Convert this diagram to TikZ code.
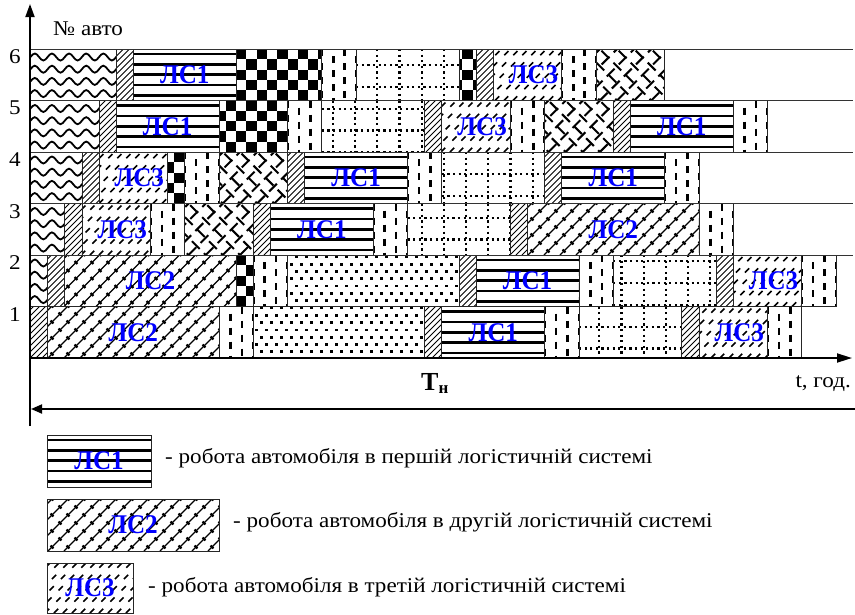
\documentclass[tikz,border=0pt]{standalone}
\usepackage{graphicx}
\usepackage{fontspec}
\setmainfont{Liberation Serif}
\usetikzlibrary{arrows.meta}

\def\U{17.14}
\def\XO{30.5}
\def\RH{51.5}
\def\YB{358}

\newcommand\wtxt[1]{\scalebox{1.1}[1]{#1}}
\newcommand\ltxt[1]{\scalebox{0.93}[1]{#1}}

\tikzset{
  frame/.style={line width=0.8pt,draw=black!85},
  rowline/.style={line width=0.9pt,draw=black!80},
  axisline/.style={line width=1.8pt},
  dotline/.style={line width=2.2pt,dash pattern=on 2.2pt off 3.4pt},
  lab/.style={font=\bfseries\fontsize{27}{27}\selectfont,text=blue,inner sep=0pt},
  txt/.style={font=\fontsize{21}{24}\selectfont,inner sep=0pt},
}

% ---- patterns (use \xa,\ya,\xb,\yb ; y grows downward) ----
\newcommand\patH{%
  \foreach \i in {0,...,4}{\draw[line width=2.6pt] (\xa,{\ya+5.15+10.3*\i}) -- (\xb,{\ya+5.15+10.3*\i});}}
\newcommand\patD{%
  \pgfmathtruncatemacro\ka{floor((\xa-60)/6)}%
  \pgfmathtruncatemacro\kb{ceil(\xb/6)}%
  \foreach \k in {\ka,...,\kb}{\draw[line width=0.9pt] ({6*\k},\yb) -- ++(60,-60);}}
\newcommand\patT{%
  \pgfmathtruncatemacro\ka{floor((\xa-60)/9)}%
  \pgfmathtruncatemacro\kb{ceil(\xb/9)}%
  \foreach \k in {\ka,...,\kb}{\draw[line width=1.5pt,dash pattern=on 6pt off 10pt] ({9*\k},\yb) -- ++(60,-60);}}
\newcommand\patV{%
  \pgfmathsetmacro\wd{(\xb-\xa)/3}%
  \foreach \j in {0,...,3}{%
    \pgfmathsetmacro\ph{mod(\j,2)*7}%
    \draw[line width=2.5pt,dash pattern=on 7pt off 7pt,dash phase=\ph pt] ({\xa+\wd*\j},\ya) -- ({\xa+\wd*\j},\yb);}}
\newcommand\patG{%
  \pgfmathtruncatemacro\ka{floor((\xa-355)/22.2)}%
  \pgfmathtruncatemacro\kb{ceil((\xb-355)/22.2)}%
  \pgfmathtruncatemacro\ja{floor((\ya-65)/21.8)}%
  \pgfmathtruncatemacro\jb{ceil((\yb-65)/21.8)}%
  \foreach \k in {\ka,...,\kb}{\draw[dotline] ({355+22.2*\k},\ya) -- ({355+22.2*\k},\yb);}%
  \foreach \j in {\ja,...,\jb}{\draw[dotline] (\xa,{65+21.8*\j}) -- (\xb,{65+21.8*\j});}}
\newcommand\patP{%
  \pgfmathtruncatemacro\ka{floor(\xa/10)-1}%
  \pgfmathtruncatemacro\kb{ceil(\xb/10)}%
  \pgfmathtruncatemacro\ja{floor(\ya/7.3)}%
  \pgfmathtruncatemacro\jb{ceil(\yb/7.3)}%
  \foreach \j in {\ja,...,\jb}{\foreach \k in {\ka,...,\kb}{\fill ({10*\k+5*mod(\j,2)},{7.3*\j}) rectangle ++(2.7,2.7);}}}
\newcommand\patC{%
  \pgfmathtruncatemacro\ia{floor((\xa-\XO)/(\U*0.6))}%
  \pgfmathtruncatemacro\ib{ceil((\xb-\XO)/(\U*0.6))}%
  \pgfmathtruncatemacro\ja{round((\ya-49)/(\RH/5))}%
  \pgfmathtruncatemacro\jb{round((\yb-49)/(\RH/5))-1}%
  \foreach \i in {\ia,...,\ib}{\foreach \j in {\ja,...,\jb}{%
     \pgfmathtruncatemacro\pp{mod(\i+\j,2)}%
     \ifnum\pp=0 \fill ({\XO+\U*0.6*\i},{49+\RH/5*\j}) rectangle ++(\U*0.6,\RH/5);\fi}}}
\newcommand\patW{%
  \foreach \i in {-1,...,4}{%
    \draw[line width=1.8pt] (\XO,{\ya+8+12.2*\i}) \foreach \m in {1,...,6}{ sin ++(\U/4,-3.5) cos ++(\U/4,3.5) sin ++(\U/4,3.5) cos ++(\U/4,-3.5)};}}
\newcommand\patX{%
  \pgfmathtruncatemacro\ka{floor((\xa-60)/17.14)}%
  \pgfmathtruncatemacro\kb{ceil((\xb+60)/17.14)}%
  \foreach \k in {\ka,...,\kb}{%
    \draw[line width=2pt,dash pattern=on 11pt off 6pt] ({17.14*\k},\yb) -- ++(60,-60);
    \draw[line width=2pt,dash pattern=on 11pt off 6pt,dash phase=8.5pt] ({17.14*\k},\yb) -- ++(-60,-60);}}
\newcommand\patL{%
  \pgfmathtruncatemacro\ka{floor((\xa-60)/16)}%
  \pgfmathtruncatemacro\kb{ceil((\xb+60)/16)}%
  \foreach \k in {\ka,...,\kb}{%
    \draw[line width=1.2pt] ({16*\k},\yb) -- ++(60,-60);
    \draw[line width=2.2pt,dash pattern=on 4pt off 7.31pt,dash phase=7.65pt] ({16*\k+8},\yb) -- ++(-60,-60);}}

\newcommand\patbox[5]{%
  \def\xa{#1}\def\ya{#2}\def\xb{#3}\def\yb{#4}%
  \begin{scope}\clip (\xa,\ya) rectangle (\xb,\yb); \csname pat#5\endcsname \end{scope}%
  \draw[frame] (\xa,\ya) rectangle (\xb,\yb);}
\newcommand\seg[4]{%
  \pgfmathsetmacro\sxa{\XO+\U*#2}\pgfmathsetmacro\sxb{\XO+\U*#3}%
  \pgfmathsetmacro\sya{\YB-\RH*#1}\pgfmathsetmacro\syb{\YB-\RH*#1+\RH}%
  \patbox{\sxa}{\sya}{\sxb}{\syb}{#4}}

\begin{document}
\begin{tikzpicture}[x=1pt,y=-1pt]
\useasboundingbox (0,0) rectangle (855,614);

% ---- chart segments ----
\foreach \r/\a/\b/\ty in {
  6/0/5/W, 6/5/6/D, 6/6/12/H, 6/12/17/C, 6/17/19/V, 6/19/25/G, 6/25/26/C, 6/26/27/D, 6/27/31/T, 6/31/33/V, 6/33/37/X,
  5/0/4/W, 5/4/5/D, 5/5/11/H, 5/11/15/C, 5/15/17/V, 5/17/23/G, 5/23/24/D, 5/24/28/T, 5/28/30/V, 5/30/34/X, 5/34/35/D, 5/35/41/H, 5/41/43/V,
  4/0/3/W, 4/3/4/D, 4/4/8/T, 4/8/9/C, 4/9/11/V, 4/11/15/X, 4/15/16/D, 4/16/22/H, 4/22/24/V, 4/24/30/G, 4/30/31/D, 4/31/37/H, 4/37/39/V,
  3/0/2/W, 3/2/3/D, 3/3/7/T, 3/7/9/V, 3/9/13/X, 3/13/14/D, 3/14/20/H, 3/20/22/V, 3/22/28/G, 3/28/29/D, 3/29/39/L, 3/39/41/V,
  2/0/1/W, 2/1/2/D, 2/2/12/L, 2/12/13/C, 2/13/15/V, 2/15/25/P, 2/25/26/D, 2/26/32/H, 2/32/34/V, 2/34/40/G, 2/40/41/D, 2/41/45/T, 2/45/47/V,
  1/0/1/D, 1/1/11/L, 1/11/13/V, 1/13/23/P, 1/23/24/D, 1/24/30/H, 1/30/32/V, 1/32/38/G, 1/38/39/D, 1/39/43/T, 1/43/45/V}
  {\seg{\r}{\a}{\b}{\ty}}

% ---- row lines ----
\foreach \r in {6,5,4,3,2} {\draw[rowline] (30,{\YB-\RH*\r}) -- (853,{\YB-\RH*\r});}

% ---- segment labels ----
\foreach \r/\c/\tx/\s/\nm in {
  6/9/ЛС1/0/a61, 6/29/ЛС3/6/a63,
  5/8/ЛС1/0/a51, 5/26/ЛС3/6/a53, 5/38/ЛС1/0/a52,
  4/6/ЛС3/6/a43, 4/19/ЛС1/0/a41, 4/34/ЛС1/0/a42,
  3/5/ЛС3/6/a33, 3/17/ЛС1/0/a31, 3/34/ЛС2/0/a32,
  2/7/ЛС2/0/a22, 2/29/ЛС1/0/a21, 2/43/ЛС3/6/a23,
  1/6/ЛС2/0/a12, 1/27/ЛС1/0/a11, 1/41/ЛС3/6/a13}
  {\node[lab] (\nm) at ({\XO+\U*\c+\s},{\YB-\RH*\r+\RH/2}) {\ltxt{\tx}};}

% ---- axes ----
\coordinate (ybot) at (30,426);
\coordinate (ytop) at (30,4);
\coordinate (xo) at (30,358);
\coordinate (xend) at (852,358);
\coordinate (tl) at (31,409);
\coordinate (tr) at (855,409);
\draw[axisline,-{Triangle[length=13pt,width=9pt]}] (ybot) -- (ytop);
\draw[axisline,-{Triangle[length=15pt,width=9pt]}] (xo) -- (xend);
\draw[axisline,{Triangle[length=11pt,width=9pt]}-] (tl) -- (tr);

% ---- axis texts ----
\node[txt,anchor=base west] (nav) at (53,35) {\wtxt{№ авто}};
\foreach \r in {1,...,6} {\node[txt,anchor=north] (n\r) at (15,{\YB-\RH*\r+0.5}) {\wtxt{\r}};}
\node[txt,anchor=base east] (tgod) at (851,387) {\wtxt{t, год.}};
\node[anchor=base west,inner sep=0pt] (tn) at (421,390) {\bfseries\fontsize{26}{26}\selectfont T\raisebox{-3pt}{\fontsize{17}{17}\selectfont н}};

% ---- legend ----
\patbox{47}{435}{151}{487}{H}
\patbox{47}{499}{219}{551}{L}
\patbox{47}{563}{133}{613}{T}
\node[lab] (g1) at (99,461) {\ltxt{ЛС1}};
\node[lab] (g2) at (133,525) {\ltxt{ЛС2}};
\node[lab] (g3) at (90,588) {\ltxt{ЛС3}};
\node[txt,anchor=west] (t1) at (165,458) {\wtxt{- робота автомобіля в першій логістичній системі}};
\node[txt,anchor=west] (t2) at (233,522) {\wtxt{- робота автомобіля в другій логістичній системі}};
\node[txt,anchor=west] (t3) at (148,587) {\wtxt{- робота автомобіля в третій логістичній системі}};
\end{tikzpicture}
\end{document}
